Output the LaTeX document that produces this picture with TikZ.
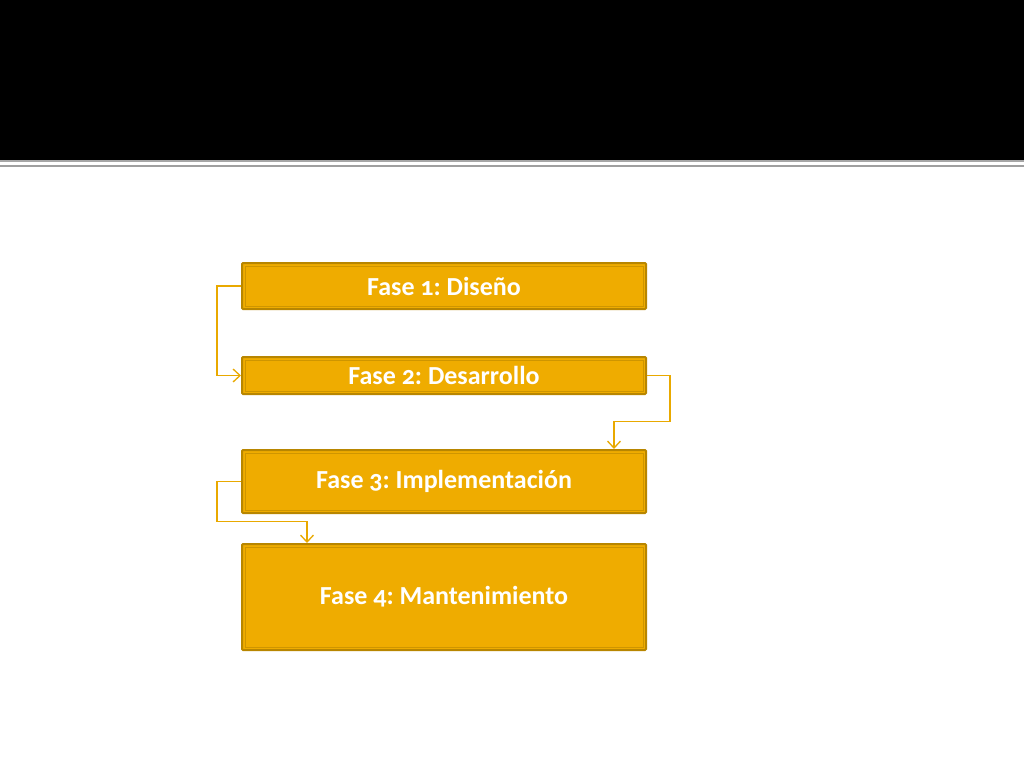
\documentclass[tikz,border=0pt]{standalone}
\usepackage{fontspec}
\setmainfont{Carlito}[Numbers=OldStyle]
\usetikzlibrary{arrows.meta}
\definecolor{gold}{HTML}{EFAC00}
\definecolor{golddark}{HTML}{B88600}
\definecolor{goldline}{HTML}{E9A900}
\tikzset{
  phase/.style={draw=golddark, line width=2pt, fill=gold, rounded corners=1pt,
    minimum width=404pt, inner sep=0pt,
    font=\bfseries\fontsize{26pt}{30pt}\selectfont, text=white},
  conn/.style={draw=goldline, line width=1.3pt, -{Straight Barb[length=7pt,width=13pt]}}
}
\begin{document}
\frenchspacing
\begin{tikzpicture}[x=1pt,y=-1pt]
\useasboundingbox (0,0) rectangle (1024,768);
\fill[white] (0,0) rectangle (1024,768);
\fill[black] (0,0) rectangle (1024,160);
\fill[gray!70] (0,160) rectangle (1024,161.5);
\draw[gray!75, line width=1.5pt] (0,166) -- (1024,166);
\node[phase, minimum height=46pt] (p1) at (444,286) {Fase 1: Diseño};
\node[phase, minimum height=37pt] (p2) at (444,375.5) {Fase 2: Desarrollo};
\node[phase, minimum height=63pt] (p3) at (444,481.5) {Fase 3: Implementación};
\node[phase, minimum height=106pt] (p4) at (444,597) {Fase 4: Mantenimiento};
\foreach \n in {p1,p2,p3,p4}{
  \draw[golddark!60!gold, line width=0.8pt] ([xshift=4pt,yshift=-4pt]\n.north west) rectangle ([xshift=-4pt,yshift=4pt]\n.south east);
}
\draw[conn] (p1.west) -- ++(-24,0) |- (p2.west);
\draw[conn] (p2.east) -- ++(23,0) -- ++(0,46) -| ([xshift=170pt]p3.north);
\draw[conn] (p3.west) -- ++(-24,0) -- ++(0,40) -| ([xshift=-137pt]p4.north);
\end{tikzpicture}
\end{document}
